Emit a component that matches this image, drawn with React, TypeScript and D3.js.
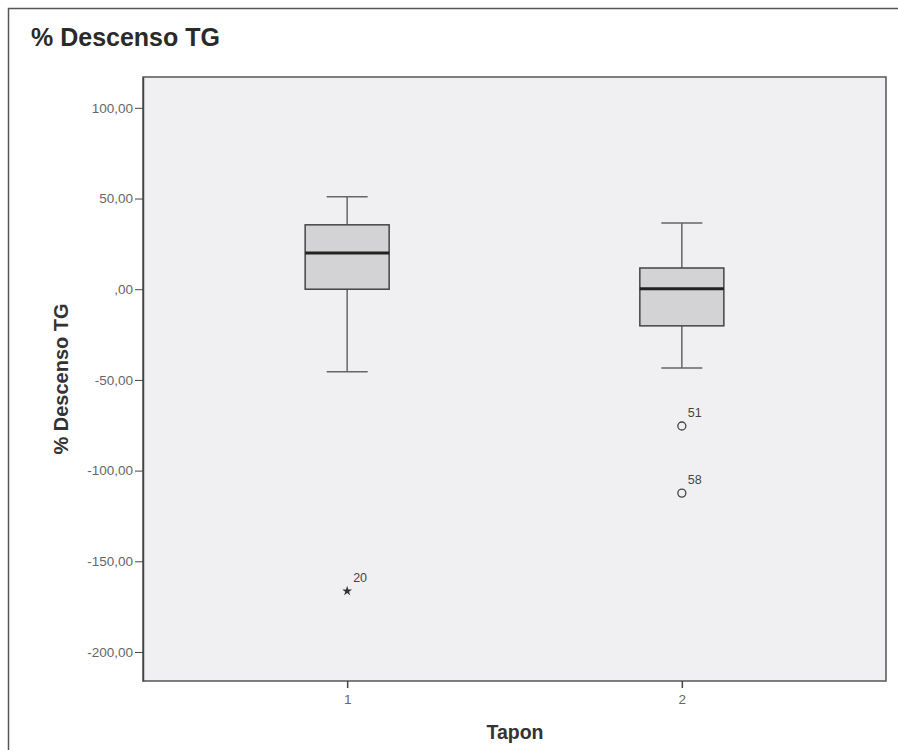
import { useRef, useEffect } from "react";
import * as d3 from "d3";

// Box plot summary per group
const groups = ["1", "2"];
const whiskerLow = [-45.5, -43.5];
const q1 = [0, -20.2];
const median = [20, 0.2];
const q3 = [35.5, 11.7];
const whiskerHigh = [51, 36.5];

// outliers: group, value, case label, kind
const outlierGroup = ["1", "2", "2"];
const outlierValue = [-166.4, -75.4, -112.4];
const outlierLabel = ["20", "51", "58"];
const outlierExtreme = [true, false, false];

const yTicks = [100, 50, 0, -50, -100, -150, -200];

const W = 898;
const H = 750;
const FONT = "'Liberation Sans', Arial, sans-serif";

function fmt(v: number) {
  if (v === 0) return ",00";
  return v.toFixed(2).replace(".", ",");
}

export default function App() {
  const svgRef = useRef<SVGSVGElement | null>(null);

  useEffect(() => {
    const svg = d3.select(svgRef.current);
    svg.selectAll("*").remove();

    const left = 143, right = 886, top = 77, bottom = 681;

    const y = d3.scaleLinear().domain([-216, 117]).range([bottom, top]);
    const x = d3.scalePoint<string>().domain(groups).range([left, right]).padding(0.61);

    // outer frame
    svg.append("rect")
      .attr("x", 0).attr("y", 0).attr("width", W).attr("height", H).attr("fill", "#fff");
    svg.append("path")
      .attr("d", `M8.5,${H} V8.5 H${W}`)
      .attr("fill", "none").attr("stroke", "#555").attr("stroke-width", 1.5);

    // title
    svg.append("text")
      .attr("x", 31).attr("y", 46)
      .attr("font-family", FONT).attr("font-size", 25).attr("font-weight", "bold")
      .attr("fill", "#2a2a2a")
      .text("% Descenso TG");

    // plot background
    svg.append("rect")
      .attr("x", left).attr("y", top).attr("width", right - left).attr("height", bottom - top)
      .attr("fill", "#f0f0f2").attr("stroke", "#555").attr("stroke-width", 1.5);

    // y axis
    const yAxis = svg.append("g").attr("transform", `translate(${left},0)`)
      .call(d3.axisLeft(y).tickValues(yTicks).tickFormat((d) => fmt(+d)).tickSize(8).tickSizeOuter(0));
    yAxis.select(".domain").attr("stroke", "#444").attr("stroke-width", 1.5);
    yAxis.selectAll(".tick line").attr("stroke", "#444");
    yAxis.selectAll(".tick text")
      .attr("font-family", FONT).attr("font-size", 13.5).attr("fill", "#666").attr("x", -10);

    // x axis
    const xAxis = svg.append("g").attr("transform", `translate(0,${bottom})`)
      .call(d3.axisBottom(x).tickSize(7).tickSizeOuter(0));
    xAxis.select(".domain").remove();
    xAxis.selectAll(".tick line").attr("stroke", "#444").attr("stroke-width", 1.5);
    xAxis.selectAll(".tick text")
      .attr("font-family", FONT).attr("font-size", 13.5).attr("fill", "#666").attr("y", 13);

    // axis titles
    svg.append("text")
      .attr("transform", `translate(68,379) rotate(-90)`)
      .attr("text-anchor", "middle")
      .attr("font-family", FONT).attr("font-size", 20).attr("font-weight", "bold")
      .attr("fill", "#333")
      .text("% Descenso TG");
    svg.append("text")
      .attr("x", 515).attr("y", 739)
      .attr("text-anchor", "middle")
      .attr("font-family", FONT).attr("font-size", 19.5).attr("font-weight", "bold")
      .attr("fill", "#333")
      .text("Tapon");

    const boxW = 84;
    const capW = 41;

    groups.forEach((g, i) => {
      const cx = x(g)!;
      const wg = svg.append("g");
      // whiskers
      wg.append("line").attr("x1", cx).attr("x2", cx)
        .attr("y1", y(whiskerHigh[i])).attr("y2", y(q3[i]))
        .attr("stroke", "#666").attr("stroke-width", 1.5);
      wg.append("line").attr("x1", cx).attr("x2", cx)
        .attr("y1", y(q1[i])).attr("y2", y(whiskerLow[i]))
        .attr("stroke", "#666").attr("stroke-width", 1.5);
      [whiskerHigh[i], whiskerLow[i]].forEach((v) => {
        wg.append("line").attr("x1", cx - capW / 2).attr("x2", cx + capW / 2)
          .attr("y1", y(v)).attr("y2", y(v))
          .attr("stroke", "#666").attr("stroke-width", 1.5);
      });
      // box
      wg.append("rect")
        .attr("x", cx - boxW / 2).attr("width", boxW)
        .attr("y", y(q3[i])).attr("height", y(q1[i]) - y(q3[i]))
        .attr("fill", "#d3d3d5").attr("stroke", "#444").attr("stroke-width", 1.5);
      // median
      wg.append("line").attr("x1", cx - boxW / 2).attr("x2", cx + boxW / 2)
        .attr("y1", y(median[i])).attr("y2", y(median[i]))
        .attr("stroke", "#222").attr("stroke-width", 3);
    });

    // outliers
    outlierValue.forEach((v, i) => {
      const cx = x(outlierGroup[i])!;
      const cy = y(v);
      if (outlierExtreme[i]) {
        const star = d3.symbol().type(d3.symbolStar).size(30);
        svg.append("path")
          .attr("transform", `translate(${cx},${cy})`)
          .attr("d", star()!)
          .attr("fill", "#333");
      } else {
        svg.append("circle")
          .attr("cx", cx).attr("cy", cy).attr("r", 4)
          .attr("fill", "none").attr("stroke", "#444").attr("stroke-width", 1.3);
      }
      svg.append("text")
        .attr("x", cx + 6).attr("y", cy - 9)
        .attr("font-family", FONT).attr("font-size", 12.5).attr("fill", "#444")
        .text(outlierLabel[i]);
    });
  }, []);

  return (
    <svg
      ref={svgRef}
      width={W}
      height={H}
      style={{ display: "block", position: "absolute", left: 0, top: 0 }}
    />
  );
}
